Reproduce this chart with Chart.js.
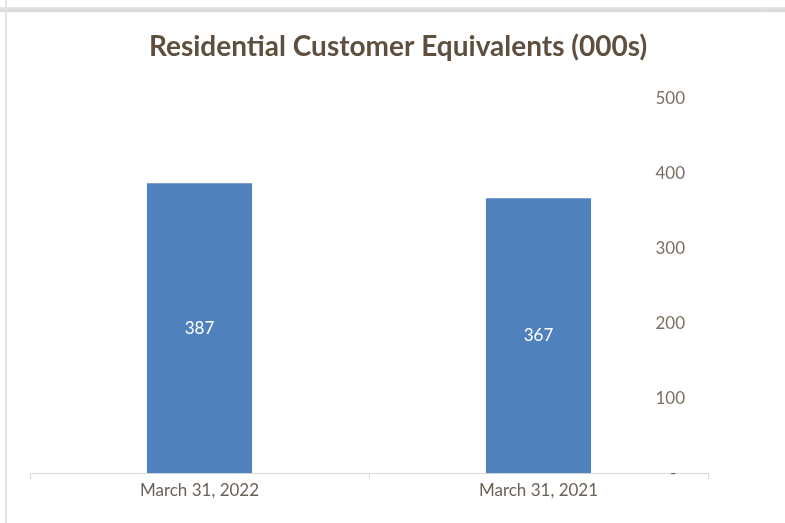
<!DOCTYPE html>
<html>
<head>
<meta charset="utf-8">
<script src="https://cdn.jsdelivr.net/npm/chart.js@4.4.1/dist/chart.umd.min.js"></script>
<style>
  html, body { margin: 0; padding: 0; background: #ffffff; }
  #wrap { position: relative; width: 785px; height: 523px; overflow: hidden; }
  #band { position: absolute; left: 0; top: 7px; width: 785px; height: 5px; background: linear-gradient(#e6e6e6, #d6d6d6); }
  #vline { position: absolute; left: 5px; top: 0; width: 2px; height: 523px; background: #e4e4e4; }
  canvas { position: absolute; left: 0; top: 0; }
</style>
</head>
<body>
<div id="wrap">
  <div id="band"></div>
  <div id="vline"></div>
  <canvas id="c" width="785" height="523"></canvas>
</div>
<script>
const categories = ["March 31, 2022", "March 31, 2021"];
const values = [387, 367];
const yTicks = [0, 100, 200, 300, 400, 500];
const chartTitle = "Residential Customer Equivalents (000s)";

const barLabels = {
  id: 'barLabels',
  afterDatasetsDraw(chart) {
    const ctx = chart.ctx;
    const meta = chart.getDatasetMeta(0);
    ctx.save();
    ctx.fillStyle = '#ffffff';
    ctx.font = '17px Lato';
    ctx.textAlign = 'center';
    ctx.textBaseline = 'middle';
    meta.data.forEach((bar, i) => {
      const y = (bar.y + bar.base) / 2;
      ctx.fillText(String(values[i]), bar.x, y);
    });
    ctx.restore();
  }
};

new Chart(document.getElementById('c'), {
  type: 'bar',
  data: {
    labels: categories,
    datasets: [{
      data: values,
      backgroundColor: '#4F81BD',
      borderWidth: 0,
      barPercentage: 0.62,
      categoryPercentage: 0.5
    }]
  },
  options: {
    responsive: false,
    animation: false,
    devicePixelRatio: 1,
    layout: { padding: { left: 30, right: 19, top: 0, bottom: 21.3 } },
    plugins: {
      legend: { display: false },
      tooltip: { enabled: false },
      title: {
        display: true,
        text: chartTitle,
        color: '#5E4F3E',
        font: { family: 'Lato', size: 28, weight: 'bold' },
        padding: { top: 30, bottom: 35 }
      }
    },
    scales: {
      x: {
        grid: { display: true, offset: true, drawOnChartArea: false, drawTicks: true, tickLength: 6, color: '#D9D9D9' },
        border: { display: true, color: '#D9D9D9', width: 1 },
        ticks: { color: '#6B6258', font: { family: 'Lato', size: 17 }, padding: 1 }
      },
      y: {
        position: 'right',
        min: 0,
        max: 500,
        afterBuildTicks(scale) { scale.ticks = yTicks.map(v => ({ value: v })); },
        afterFit(scale) { scale.width = 58; },
        grid: { display: false, drawTicks: false },
        border: { display: false },
        ticks: {
          mirror: true,
          padding: -23,
          color: '#7A7064',
          font: { family: 'Lato', size: 17 },
          callback: (v) => v === 0 ? '-  ' : String(v)
        }
      }
    }
  },
  plugins: [barLabels]
});
</script>
</body>
</html>
